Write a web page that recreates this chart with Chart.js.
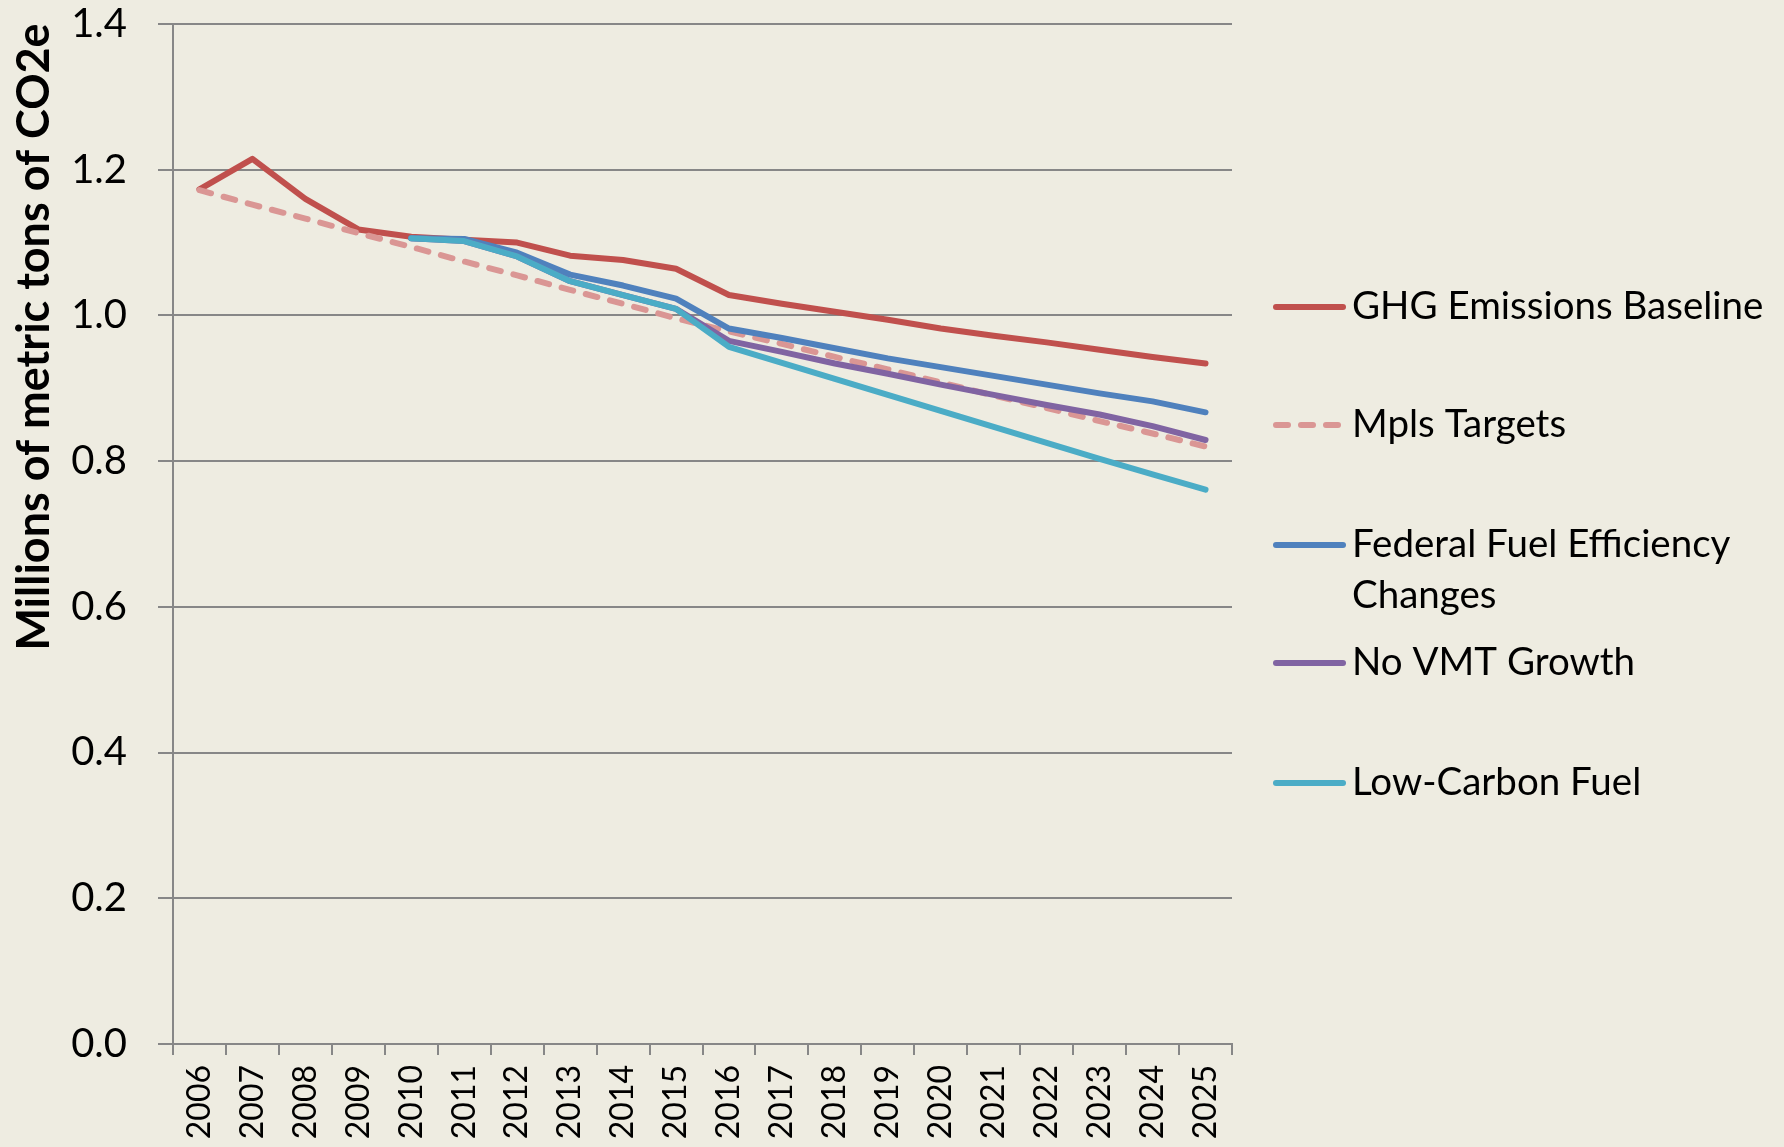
<!DOCTYPE html>
<html>
<head>
<meta charset="utf-8">
<script src="https://cdn.jsdelivr.net/npm/chart.js@4.4.1/dist/chart.umd.min.js"></script>
<style>
  html, body { margin: 0; padding: 0; background: #EEECE1; }
  #wrap { width: 1784px; height: 1147px; position: relative; }
</style>
</head>
<body>
<div id="wrap"><canvas id="ghgChart" width="1784" height="1147"></canvas></div>
<script>
// data (juta ton CO2e)
const years = ['2006','2007','2008','2009','2010','2011','2012','2013','2014','2015',
               '2016','2017','2018','2019','2020','2021','2022','2023','2024','2025'];
const yTicks = [0, 0.2, 0.4, 0.6, 0.8, 1.0, 1.2, 1.4];

const seriesNames = ['GHG Emissions Baseline', 'Mpls Targets', 'Federal Fuel Efficiency Changes', 'No VMT Growth', 'Low-Carbon Fuel'];

const baseline = [1.173, 1.215, 1.160, 1.118, 1.108, 1.104, 1.100, 1.082, 1.076, 1.064,
                  1.028, 1.016, 1.005, 0.994, 0.982, 0.972, 0.963, 0.953, 0.943, 0.934];
const mplsTargets = [1.172, 1.152, 1.133, 1.113, 1.094, 1.074, 1.055, 1.035, 1.016, 0.996,
                     0.978, 0.961, 0.943, 0.926, 0.908, 0.890, 0.873, 0.855, 0.838, 0.820];
const federalFuel = [null, null, null, null, 1.106, 1.105, 1.086, 1.056, 1.041, 1.023,
                     0.982, 0.969, 0.955, 0.941, 0.929, 0.917, 0.905, 0.893, 0.882, 0.867];
const noVmtGrowth = [null, null, null, null, 1.106, 1.102, 1.081, 1.047, 1.028, 1.009,
                     0.965, 0.950, 0.934, 0.920, 0.905, 0.891, 0.877, 0.864, 0.848, 0.829];
const lowCarbon = [null, null, null, null, 1.106, 1.102, 1.081, 1.047, 1.028, 1.009,
                   0.957, 0.935, 0.913, 0.891, 0.869, 0.847, 0.825, 0.803, 0.782, 0.761];

const colors = ['#C0504D', '#DA9694', '#4F81BD', '#8064A2', '#4BACC6'];
const gridColor = '#878787';
const bgColor = '#EEECE1';

// posisi legenda di kanan (baris tengah tiap item)
const legendRows = [307, 425, 545, 663, 783];

const bgPlugin = {
    id: 'bg',
    beforeDraw(chart) {
        const ctx = chart.ctx;
        ctx.save();
        ctx.fillStyle = bgColor;
        ctx.fillRect(0, 0, chart.width, chart.height);
        ctx.restore();
    }
};

// judul sumbu Y digambar manual biar posisinya agak ke atas seperti aslinya
const yTitlePlugin = {
    id: 'yTitle',
    afterDraw(chart) {
        const ctx = chart.ctx;
        ctx.save();
        ctx.translate(34, 337);
        ctx.rotate(-Math.PI / 2);
        ctx.fillStyle = '#000';
        ctx.font = 'bold 45px Lato';
        ctx.textAlign = 'center';
        ctx.textBaseline = 'middle';
        ctx.fillText('Millions of metric tons of CO2e', 0, 0);
        ctx.restore();
    }
};

// legenda custom: jarak antar item besar & label Federal dua baris
const legendPlugin = {
    id: 'sideLegend',
    afterDraw(chart) {
        const ctx = chart.ctx;
        ctx.save();
        chart.data.datasets.forEach((ds, i) => {
            const y = legendRows[i];
            ctx.strokeStyle = ds.borderColor;
            ctx.lineWidth = 6;
            ctx.lineCap = 'round';
            ctx.setLineDash(ds.borderDash || []);
            ctx.beginPath();
            ctx.moveTo(1276, y);
            ctx.lineTo(1343, y);
            ctx.stroke();
            ctx.setLineDash([]);

            ctx.fillStyle = '#000';
            ctx.font = '38.5px Lato';
            ctx.textAlign = 'left';
            ctx.textBaseline = 'middle';
            const lines = i === 2 ? ['Federal Fuel Efficiency', 'Changes'] : [ds.label];
            lines.forEach((t, k) => ctx.fillText(t, 1352, y + k * 51));
        });
        ctx.restore();
    }
};

const seriesData = [baseline, mplsTargets, federalFuel, noVmtGrowth, lowCarbon];

const ctx = document.getElementById('ghgChart').getContext('2d');
new Chart(ctx, {
    type: 'line',
    data: {
        labels: years,
        datasets: seriesData.map((d, i) => ({
            label: seriesNames[i],
            data: d,
            borderColor: colors[i],
            backgroundColor: colors[i],
            borderWidth: 6,
            borderDash: i === 1 ? [12, 13] : [],
            borderCapStyle: 'round',
            borderJoinStyle: 'round',
            pointRadius: 0,
            tension: 0,
            spanGaps: false,
            order: 5 - i // seri terakhir digambar paling atas (kayak Excel)
        }))
    },
    options: {
        responsive: false,
        animation: false,
        devicePixelRatio: 1,
        layout: { padding: { top: 24, right: 552, bottom: 0, left: 0 } },
        plugins: {
            legend: { display: false },
            tooltip: { enabled: false }
        },
        scales: {
            x: {
                offset: true,
                grid: {
                    offset: true,
                    drawOnChartArea: false,
                    color: gridColor,
                    lineWidth: 2,
                    tickLength: 11
                },
                border: { color: gridColor, width: 2 },
                ticks: {
                    color: '#000',
                    font: { family: 'Lato', size: 32 },
                    maxRotation: 90,
                    minRotation: 90,
                    padding: 10,
                    autoSkip: false
                },
                afterFit: s => {
                    s.height = 103;
                    s.paddingLeft = 0;
                    s.paddingRight = 0;
                }
            },
            y: {
                min: 0,
                max: 1.4,
                afterBuildTicks: s => { s.ticks = yTicks.map(v => ({ value: v })); },
                grid: {
                    color: gridColor,
                    lineWidth: 2,
                    tickLength: 15
                },
                border: { color: gridColor, width: 2 },
                ticks: {
                    color: '#000',
                    font: { family: 'Lato', size: 40 },
                    padding: 31,
                    callback: v => Number(v).toFixed(1)
                },
                afterFit: s => {
                    s.width = 173;
                    s.paddingTop = 0;
                    s.paddingBottom = 0;
                }
            }
        }
    },
    plugins: [bgPlugin, yTitlePlugin, legendPlugin]
});
</script>
</body>
</html>
